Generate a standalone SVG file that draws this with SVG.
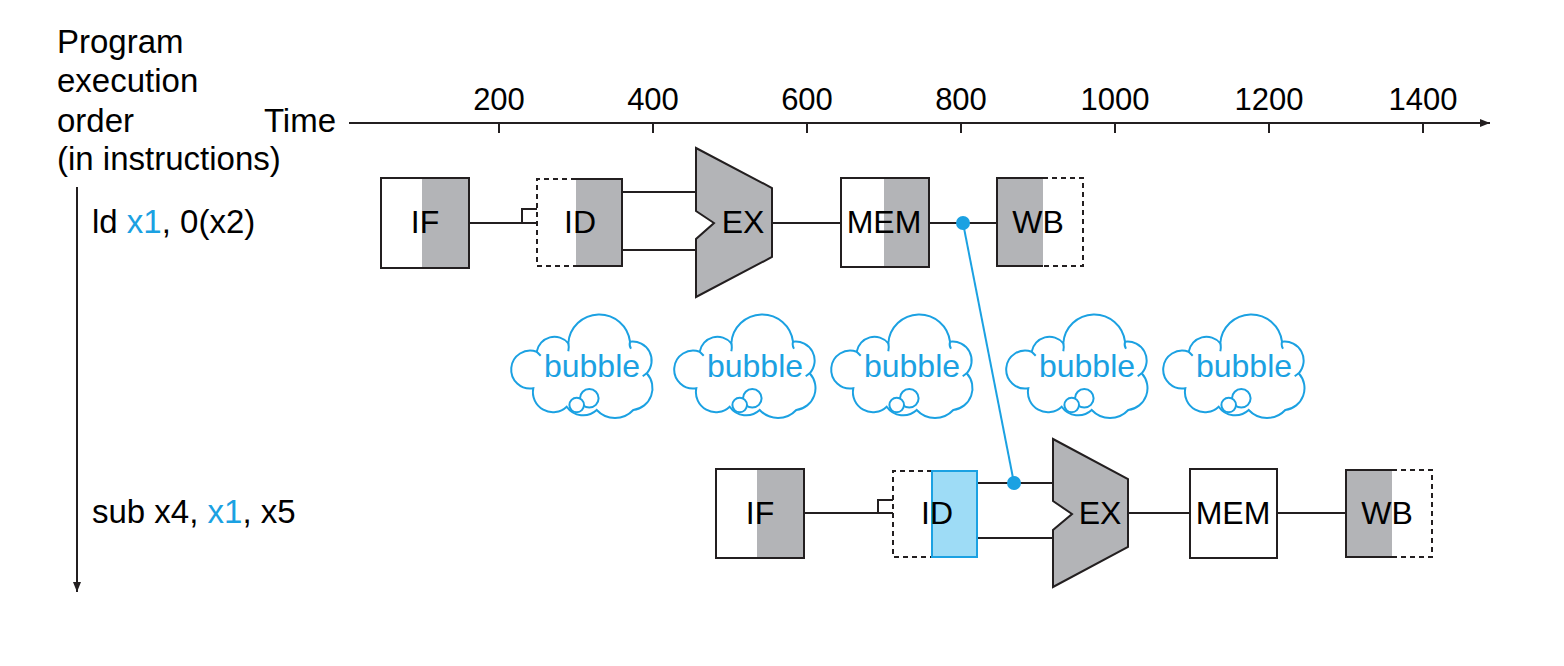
<svg xmlns="http://www.w3.org/2000/svg" xmlns:xlink="http://www.w3.org/1999/xlink" width="1564" height="666" viewBox="0 0 1564 666">
<defs>
<style>
text{font-family:"Liberation Sans",Arial,sans-serif;fill:#000}
.lbl{font-size:33px}
.num{font-size:31px;text-anchor:middle}
.st{font-size:32px;text-anchor:middle}
.row{font-size:33px}
.blue{fill:#1ba1e2}
.box{fill:#fff;stroke:none}
.gray{fill:#b3b4b7;stroke:none}
.solid{fill:none;stroke:#231f20;stroke-width:2}
.dash{fill:none;stroke:#231f20;stroke-width:2;stroke-dasharray:5 4}
.ex{fill:#b3b4b7;stroke:#231f20;stroke-width:2;stroke-linejoin:miter}
.wire{fill:none;stroke:#231f20;stroke-width:2}
.bw{fill:none;stroke:#1ba1e2;stroke-width:2}
.cloud{fill:#fff;stroke:#1ba1e2;stroke-width:2}
.bt{font-size:32px;text-anchor:middle;fill:#1ba1e2}
</style>
<marker id="ah" viewBox="0 0 10 10" refX="10" refY="5" markerWidth="10" markerHeight="10" markerUnits="userSpaceOnUse" orient="auto">
<path d="M0,1 L10,5 L0,9 Z" fill="#231f20"/>
</marker>
<g id="cloudshape">
<path class="cloud" d="M-48.3,-13.3 A18,18 0 0 1 -16.7,-21.7 A31,31 0 0 1 45,-23.3 A19,19 0 0 1 61.7,8.3 A22,22 0 0 1 48.3,45 A25,25 0 0 1 11.7,45 A20,20 0 0 1 -18.3,41.7 A20,20 0 0 1 -51.7,23.3 A19,19 0 1 1 -48.3,-13.3 Z"/>
<path class="bw" d="M-16.7,-21.7 q1,4 0,8 M45,-23.3 q-1,4 1,7 M61.7,8.3 l-4,3 M-48.3,-13.3 l4,4"/>
<circle class="cloud" cx="4.3" cy="33.3" r="9.3"/>
<circle class="cloud" cx="-8.3" cy="40" r="7.3"/>
</g>
</defs>
<rect width="1564" height="666" fill="#fff"/>

<g id="labels">
<text class="lbl" x="57" y="53">Program</text>
<text class="lbl" x="57" y="92">execution</text>
<text class="lbl" x="57" y="132">order</text>
<text class="lbl" x="57" y="170">(in instructions)</text>
<text class="lbl" x="336" y="132" text-anchor="end">Time</text>
<text class="row" x="92" y="233">ld <tspan class="blue">x1</tspan>, 0(x2)</text>
<text class="row" x="92" y="523">sub x4, <tspan class="blue">x1</tspan>, x5</text>
</g>

<g id="axes">
<line x1="349" y1="123" x2="1490" y2="123" stroke="#231f20" stroke-width="2" marker-end="url(#ah)"/>
<line x1="77" y1="187" x2="77" y2="592" stroke="#231f20" stroke-width="2" marker-end="url(#ah)"/>
<path class="wire" d="M499,123 V133 M653,123 V133 M807,123 V133 M961,123 V133 M1115,123 V133 M1269,123 V133 M1423,123 V133"/>
<text class="num" x="499" y="110">200</text>
<text class="num" x="653" y="110">400</text>
<text class="num" x="807" y="110">600</text>
<text class="num" x="961" y="110">800</text>
<text class="num" x="1115" y="110">1000</text>
<text class="num" x="1269" y="110">1200</text>
<text class="num" x="1423" y="110">1400</text>
</g>

<g id="connectors">
<path class="wire" d="M469,223 H537 M522,223 V209 H537"/>
<path class="wire" d="M622,192 H696 M622,250 H696"/>
<path class="wire" d="M772,223 H841"/>
<path class="wire" d="M929,223 H997"/>
<path class="wire" d="M804,513 H893 M878,513 V500 H893"/>
<path class="wire" d="M977,483 H1053 M977,538 H1053"/>
<path class="wire" d="M1128,513 H1190"/>
<path class="wire" d="M1277,513 H1346"/>
<line class="bw" x1="963" y1="223" x2="1014" y2="483"/>
<circle cx="963" cy="223" r="7" fill="#1ba1e2"/>
<circle cx="1014" cy="483" r="7" fill="#1ba1e2"/>
</g>

<g id="if1">
<rect class="box" x="381" y="178" width="88" height="90"/>
<rect class="gray" x="422" y="178" width="47" height="90"/>
<rect class="solid" x="381" y="178" width="88" height="90"/>
<text class="st" x="425" y="233">IF</text>
</g>
<g id="id1">
<rect class="gray" x="576" y="179" width="46" height="87"/>
<path class="dash" d="M576,179 H537 V266 H576"/>
<path class="solid" d="M576,179 H622 V266 H576"/>
<text class="st" x="580" y="233">ID</text>
</g>
<g id="ex1">
<polygon class="ex" points="696,148 772,188 772,257 696,297 696,239 714,223 696,211"/>
<text class="st" x="743" y="233">EX</text>
</g>
<g id="mem1">
<rect class="box" x="841" y="178" width="88" height="89"/>
<rect class="gray" x="884" y="178" width="45" height="89"/>
<rect class="solid" x="841" y="178" width="88" height="89"/>
<text class="st" x="884" y="233">MEM</text>
</g>
<g id="wb1">
<rect class="gray" x="997" y="178" width="46" height="88"/>
<path class="solid" d="M1043,178 H997 V266 H1043"/>
<path class="dash" d="M1043,178 H1083 V266 H1043"/>
<text class="st" x="1038" y="233">WB</text>
</g>

<g id="if2">
<rect class="box" x="716" y="469" width="88" height="89"/>
<rect class="gray" x="757" y="469" width="47" height="89"/>
<rect class="solid" x="716" y="469" width="88" height="89"/>
<text class="st" x="760" y="524">IF</text>
</g>
<g id="id2">
<path class="dash" d="M932,471 H893 V557 H932"/>
<rect x="932" y="471" width="45" height="86" fill="#9edcf6" stroke="#1ba1e2" stroke-width="2"/>
<text class="st" x="937" y="524">ID</text>
</g>
<g id="ex2">
<polygon class="ex" points="1053,439 1128,479 1128,547 1053,587 1053,530 1072,514 1053,501"/>
<text class="st" x="1100" y="524">EX</text>
</g>
<g id="mem2">
<rect class="solid" x="1190" y="469" width="87" height="89" fill="#fff"/>
<text class="st" x="1233" y="524">MEM</text>
</g>
<g id="wb2">
<rect class="gray" x="1346" y="470" width="46" height="87"/>
<path class="solid" d="M1392,470 H1346 V557 H1392"/>
<path class="dash" d="M1392,470 H1432 V557 H1392"/>
<text class="st" x="1387" y="524">WB</text>
</g>

<g id="bubble1"><use xlink:href="#cloudshape" transform="translate(585,365)"/><text class="bt" x="592" y="377">bubble</text></g>
<g id="bubble2"><use xlink:href="#cloudshape" transform="translate(748,365)"/><text class="bt" x="755" y="377">bubble</text></g>
<g id="bubble3"><use xlink:href="#cloudshape" transform="translate(905,365)"/><text class="bt" x="912" y="377">bubble</text></g>
<g id="bubble4"><use xlink:href="#cloudshape" transform="translate(1080,365)"/><text class="bt" x="1087" y="377">bubble</text></g>
<g id="bubble5"><use xlink:href="#cloudshape" transform="translate(1237,365)"/><text class="bt" x="1244" y="377">bubble</text></g>
</svg>
